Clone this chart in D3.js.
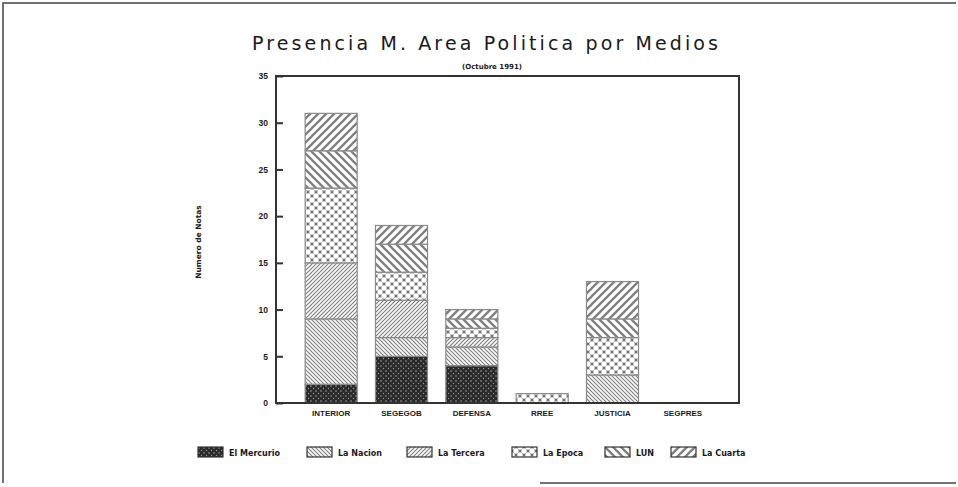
<!DOCTYPE html>
<html>
<head>
<meta charset="utf-8">
<script src="https://cdn.jsdelivr.net/npm/d3@7"></script>
<style>
  body { margin: 0; background: #fff; }
  svg { display: block; font-family: "DejaVu Sans", sans-serif; }
</style>
</head>
<body>
<div id="chart"></div>
<script>
// Data
const categories = ['INTERIOR', 'SEGEGOB', 'DEFENSA', 'RREE', 'JUSTICIA', 'SEGPRES']
const series = ['El Mercurio', 'La Nacion', 'La Tercera', 'La Epoca', 'LUN', 'La Cuarta']
const elMercurio = [2, 5, 4, 0, 0, 0]
const laNacion = [7, 2, 2, 0, 3, 0]
const laTercera = [6, 4, 1, 0, 0, 0]
const laEpoca = [8, 3, 1, 1, 4, 0]
const lun = [4, 3, 1, 0, 2, 0]
const laCuarta = [4, 2, 1, 0, 4, 0]
const yTicks = [0, 5, 10, 15, 20, 25, 30, 35]

const values = [elMercurio, laNacion, laTercera, laEpoca, lun, laCuarta]
const rows = categories.map((c, i) => {
    const row = { cat: c }
    series.forEach((s, j) => { row[s] = values[j][i] })
    return row
})

// SVG Node
const width = 958
const height = 487
const svg = d3.select('#chart').append('svg')
    .attr('width', width)
    .attr('height', height)

// Presentation
const plot = { left: 276, right: 739, top: 76, bottom: 403 }
const ink = '#1a1a1a'
const hatch = '#808080'

const defs = svg.append('defs')
const patternIds = ['pMercurio', 'pNacion', 'pTercera', 'pEpoca', 'pLun', 'pCuarta']

// El Mercurio: dark with light dots
const pm = defs.append('pattern').attr('id', 'pMercurio').attr('patternUnits', 'userSpaceOnUse')
    .attr('width', 5).attr('height', 5)
pm.append('rect').attr('width', 5).attr('height', 5).attr('fill', '#2a2a2a')
pm.append('circle').attr('cx', 1).attr('cy', 1).attr('r', 0.7).attr('fill', '#bbb')
pm.append('circle').attr('cx', 3.5).attr('cy', 3.5).attr('r', 0.7).attr('fill', '#999')

// line hatches
const hatchPattern = (id, size, dir, sw) => {
    const p = defs.append('pattern').attr('id', id).attr('patternUnits', 'userSpaceOnUse')
        .attr('width', size).attr('height', size)
    p.append('rect').attr('width', size).attr('height', size).attr('fill', '#fff')
    const d = dir > 0
        ? `M0,${size} L${size},0 M${-size / 2},${size / 2} L${size / 2},${-size / 2} M${size / 2},${size * 1.5} L${size * 1.5},${size / 2}`
        : `M0,0 L${size},${size} M${-size / 2},${size / 2} L${size / 2},${size * 1.5} M${size / 2},${-size / 2} L${size * 1.5},${size / 2}`
    p.append('path').attr('d', d).attr('stroke', hatch).attr('stroke-width', sw)
}
hatchPattern('pNacion', 4, -1, 1.2)
hatchPattern('pTercera', 4, 1, 1.2)
hatchPattern('pLun', 8, -1, 2.3)
hatchPattern('pCuarta', 8, 1, 2.3)

// La Epoca: white holes on grey grid
const pe = defs.append('pattern').attr('id', 'pEpoca').attr('patternUnits', 'userSpaceOnUse')
    .attr('width', 8).attr('height', 8)
pe.append('rect').attr('width', 8).attr('height', 8).attr('fill', '#707070')
const holes = [[0, 0], [8, 0], [0, 8], [8, 8], [4, 4]]
holes.forEach(([cx, cy]) => {
    pe.append('circle').attr('cx', cx).attr('cy', cy).attr('r', 2.7).attr('fill', '#fff')
})

// outer frame
svg.append('path')
    .attr('d', `M3,483 L3,3 L956,3 M540,483 L956,483`)
    .attr('fill', 'none').attr('stroke', '#444').attr('stroke-width', 1.5)

// Scale
const x = d3.scaleBand()
    .domain(categories)
    .range([296, 718])
    .paddingInner(0.26)
    .paddingOuter(0.13)
const y = d3.scaleLinear()
    .domain([0, 35])
    .range([plot.bottom, plot.top])

const stack = d3.stack().keys(series)(rows)

// Bars
const layers = svg.append('g').attr('class', 'bars')
    .selectAll('g.layer')
    .data(stack)
    .enter()
    .append('g')
    .attr('class', 'layer')
    .attr('fill', (_, i) => `url(#${patternIds[i]})`)

layers.selectAll('rect.segment')
    .data(d => d.filter(s => s[1] > s[0]))
    .enter()
    .append('rect')
    .classed('segment', true)
    .attr('x', d => x(d.data.cat))
    .attr('y', d => y(d[1]))
    .attr('width', x.bandwidth())
    .attr('height', d => y(d[0]) - y(d[1]))
    .attr('stroke', '#8a8a8a')
    .attr('stroke-width', 1.2)

// Plot frame
svg.append('rect')
    .attr('x', plot.left).attr('y', plot.top)
    .attr('width', plot.right - plot.left).attr('height', plot.bottom - plot.top)
    .attr('fill', 'none').attr('stroke', '#333').attr('stroke-width', 2)

// Axis
const yAxis = d3.axisRight(y)
    .tickValues(yTicks)
    .tickSize(7)
const yAxisG = svg.append('g')
    .attr('transform', `translate(${plot.left}, 0)`)
    .call(yAxis)
yAxisG.select('.domain').remove()
yAxisG.selectAll('.tick line').attr('stroke', '#333').attr('stroke-width', 2)
yAxisG.selectAll('.tick text')
    .attr('x', -8)
    .attr('text-anchor', 'end')
    .attr('font-size', 8.5)
    .attr('font-weight', 'bold')
    .attr('fill', ink)

const xAxis = d3.axisBottom(x).tickSize(0).tickPadding(7)
const xAxisG = svg.append('g')
    .attr('transform', `translate(0, ${plot.bottom})`)
    .call(xAxis)
xAxisG.select('.domain').remove()
xAxisG.selectAll('.tick text')
    .attr('font-size', 8)
    .attr('font-weight', 'bold')
    .attr('fill', ink)

// Titles
svg.append('text')
    .attr('x', 485).attr('y', 50)
    .attr('text-anchor', 'middle')
    .attr('font-size', 19)
    .attr('textLength', 466)
    .attr('lengthAdjust', 'spacing')
    .attr('fill', ink)
    .text('Presencia M. Area Politica por Medios')

svg.append('text')
    .attr('x', 492).attr('y', 69)
    .attr('text-anchor', 'middle')
    .attr('font-size', 7)
    .attr('font-weight', 'bold')
    .attr('fill', ink)
    .text('(Octubre 1991)')

svg.append('text')
    .attr('transform', 'translate(201, 242) rotate(-90)')
    .attr('text-anchor', 'middle')
    .attr('font-size', 7.5)
    .attr('font-weight', 'bold')
    .attr('fill', ink)
    .text('Numero de Notas')

// Legend
const legendX = [198, 307, 407, 512, 605, 671]
const legend = svg.append('g').attr('class', 'legend')
    .selectAll('g')
    .data(series)
    .enter()
    .append('g')
    .attr('transform', (_, i) => `translate(${legendX[i]}, 447)`)
legend.append('rect')
    .attr('width', 25).attr('height', 10)
    .attr('fill', (_, i) => `url(#${patternIds[i]})`)
    .attr('stroke', '#333').attr('stroke-width', 1.2)
legend.append('text')
    .attr('x', 31).attr('y', 8.5)
    .attr('font-size', 8)
    .attr('font-weight', 'bold')
    .attr('fill', ink)
    .text(d => d)
</script>
</body>
</html>
